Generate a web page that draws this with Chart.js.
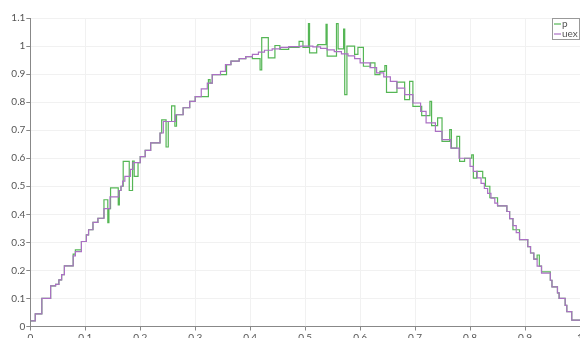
<!DOCTYPE html>
<html>
<head>
<meta charset="utf-8">
<script src="https://cdn.jsdelivr.net/npm/chart.js@4"></script>
<style>
  html, body { margin: 0; padding: 0; background: #fff; }
  #wrap { width: 580px; height: 338px; }
</style>
</head>
<body>
<div id="wrap"><canvas id="plot" width="580" height="338"></canvas></div>
<script>
// exact solution, piecewise constant per cell (x = left edge of cell)
const uexX = [0, 0.009, 0.021, 0.037, 0.046, 0.052, 0.057, 0.062, 0.078, 0.082, 0.093, 0.102, 0.106, 0.114, 0.123, 0.134, 0.145, 0.161, 0.165, 0.168, 0.172, 0.182, 0.187, 0.200, 0.209, 0.219, 0.236, 0.242, 0.264, 0.278, 0.290, 0.300, 0.311, 0.322, 0.331, 0.346, 0.355, 0.365, 0.380, 0.392, 0.404, 0.415, 0.426, 0.440, 0.455, 0.470, 0.492, 0.514, 0.528, 0.540, 0.553, 0.566, 0.578, 0.590, 0.600, 0.618, 0.630, 0.643, 0.655, 0.667, 0.681, 0.696, 0.710, 0.720, 0.737, 0.749, 0.765, 0.780, 0.800, 0.806, 0.813, 0.820, 0.826, 0.832, 0.838, 0.845, 0.850, 0.867, 0.872, 0.878, 0.884, 0.890, 0.905, 0.910, 0.916, 0.922, 0.930, 0.946, 0.949, 0.959, 0.962, 0.973, 0.976, 0.985, 1.000];
const uexY = [0.020, 0.045, 0.100, 0.145, 0.150, 0.166, 0.185, 0.216, 0.252, 0.267, 0.303, 0.327, 0.345, 0.371, 0.386, 0.420, 0.462, 0.485, 0.500, 0.518, 0.535, 0.560, 0.584, 0.606, 0.628, 0.655, 0.690, 0.731, 0.755, 0.780, 0.803, 0.820, 0.847, 0.868, 0.898, 0.910, 0.934, 0.946, 0.955, 0.962, 0.970, 0.978, 0.985, 0.990, 0.995, 0.998, 1.000, 0.997, 0.992, 0.986, 0.980, 0.972, 0.965, 0.955, 0.940, 0.923, 0.904, 0.890, 0.874, 0.850, 0.827, 0.797, 0.767, 0.726, 0.696, 0.666, 0.636, 0.600, 0.571, 0.553, 0.530, 0.510, 0.492, 0.475, 0.458, 0.440, 0.430, 0.410, 0.385, 0.360, 0.335, 0.310, 0.285, 0.262, 0.240, 0.215, 0.190, 0.165, 0.141, 0.120, 0.100, 0.075, 0.053, 0.023, 0.023];

// computed p, same layout
const pX = [0, 0.009, 0.021, 0.037, 0.046, 0.052, 0.057, 0.062, 0.078, 0.082, 0.093, 0.102, 0.106, 0.114, 0.123, 0.134, 0.141, 0.143, 0.146, 0.160, 0.162, 0.165, 0.169, 0.180, 0.186, 0.189, 0.196, 0.200, 0.209, 0.219, 0.236, 0.239, 0.247, 0.251, 0.257, 0.263, 0.266, 0.278, 0.290, 0.300, 0.313, 0.324, 0.327, 0.331, 0.346, 0.357, 0.365, 0.380, 0.392, 0.404, 0.418, 0.421, 0.433, 0.445, 0.454, 0.470, 0.489, 0.496, 0.506, 0.508, 0.521, 0.523, 0.538, 0.540, 0.557, 0.560, 0.570, 0.572, 0.576, 0.590, 0.596, 0.606, 0.619, 0.627, 0.636, 0.645, 0.648, 0.667, 0.681, 0.690, 0.696, 0.712, 0.727, 0.730, 0.741, 0.749, 0.763, 0.766, 0.776, 0.781, 0.790, 0.803, 0.806, 0.812, 0.823, 0.828, 0.836, 0.850, 0.867, 0.872, 0.878, 0.890, 0.905, 0.910, 0.916, 0.922, 0.926, 0.930, 0.946, 0.949, 0.959, 0.962, 0.973, 0.976, 0.985, 1.000];
const pY = [0.020, 0.045, 0.100, 0.145, 0.150, 0.166, 0.185, 0.216, 0.258, 0.273, 0.303, 0.327, 0.345, 0.371, 0.386, 0.452, 0.370, 0.420, 0.494, 0.434, 0.485, 0.500, 0.589, 0.485, 0.590, 0.535, 0.584, 0.606, 0.628, 0.655, 0.690, 0.737, 0.640, 0.731, 0.787, 0.714, 0.755, 0.780, 0.803, 0.820, 0.820, 0.880, 0.868, 0.898, 0.898, 0.934, 0.946, 0.955, 0.962, 0.955, 0.915, 1.030, 0.958, 1.002, 0.988, 0.995, 1.017, 0.995, 1.080, 0.976, 1.000, 1.005, 1.077, 0.964, 1.080, 0.990, 1.060, 0.827, 1.000, 0.970, 0.995, 0.928, 0.940, 0.898, 0.910, 0.930, 0.835, 0.871, 0.809, 0.874, 0.785, 0.752, 0.803, 0.716, 0.744, 0.660, 0.702, 0.636, 0.678, 0.589, 0.600, 0.612, 0.529, 0.553, 0.530, 0.500, 0.459, 0.430, 0.410, 0.385, 0.345, 0.310, 0.285, 0.262, 0.240, 0.255, 0.215, 0.195, 0.165, 0.141, 0.120, 0.100, 0.075, 0.053, 0.023, 0.023];

const xTicks = [0, 0.1, 0.2, 0.3, 0.4, 0.5, 0.6, 0.7, 0.8, 0.9, 1];
const yTicks = [0, 0.1, 0.2, 0.3, 0.4, 0.5, 0.6, 0.7, 0.8, 0.9, 1, 1.1];

const seriesNames = ['p', 'uex'];
const seriesColors = ['#55b655', '#ab70c4'];

const toPoints = (xs, ys) => xs.map((x, i) => ({ x: x, y: ys[i] }));

Chart.defaults.font.family = 'Lato, "Open Sans", sans-serif';
Chart.defaults.font.size = 10;
Chart.defaults.color = '#555';

// legend box in the top right corner of the plot
const boxLegend = {
  id: 'boxLegend',
  afterDraw(chart) {
    const ctx = chart.ctx;
    const right = chart.chartArea.right;
    const top = chart.chartArea.top;
    const w = 28, h = 22;
    const left = right - w;
    ctx.save();
    ctx.fillStyle = '#fff';
    ctx.fillRect(left, top, w, h);
    ctx.strokeStyle = '#999';
    ctx.lineWidth = 1;
    ctx.strokeRect(left + 0.5, top + 0.5, w - 1, h - 1);
    ctx.font = '10px Lato, "Open Sans", sans-serif';
    ctx.textBaseline = 'middle';
    seriesNames.forEach((name, i) => {
      const y = top + 6 + i * 10;
      ctx.strokeStyle = seriesColors[i];
      ctx.lineWidth = 1.2;
      ctx.beginPath();
      ctx.moveTo(left + 2, y);
      ctx.lineTo(left + 9, y);
      ctx.stroke();
      ctx.fillStyle = '#555';
      ctx.fillText(name, left + 10, y);
    });
    ctx.restore();
  }
};

// each value holds from its x up to the next x: horizontal first, then vertical
new Chart(document.getElementById('plot'), {
  type: 'line',
  data: {
    datasets: [
      {
        label: seriesNames[0],
        data: toPoints(pX, pY),
        borderColor: seriesColors[0],
        borderWidth: 1.2,
        stepped: 'before',
        pointRadius: 0,
        order: 2
      },
      {
        label: seriesNames[1],
        data: toPoints(uexX, uexY),
        borderColor: seriesColors[1],
        borderWidth: 1.2,
        stepped: 'before',
        pointRadius: 0,
        order: 1
      }
    ]
  },
  options: {
    responsive: false,
    animation: false,
    layout: { padding: { top: 18, right: 0, left: 0, bottom: 0 } },
    plugins: { legend: { display: false }, tooltip: { enabled: false } },
    scales: {
      x: {
        type: 'linear',
        min: 0,
        max: 1,
        afterBuildTicks: s => { s.ticks = xTicks.map(v => ({ value: v })); },
        afterFit: s => { s.height = 11.5; s.paddingLeft = 0; s.paddingRight = 0; },
        ticks: { padding: 1, maxRotation: 0, autoSkip: false, callback: v => String(v) },
        grid: { color: '#f1f1f1', tickColor: '#888', tickLength: 4 },
        border: { color: '#888', width: 1 }
      },
      y: {
        min: 0,
        max: 1.1,
        afterBuildTicks: s => { s.ticks = yTicks.map(v => ({ value: v })); },
        afterFit: s => { s.width = 30.3; s.paddingTop = 0; s.paddingBottom = 0; },
        ticks: { padding: 1, autoSkip: false, callback: v => String(v) },
        grid: { color: '#f1f1f1', tickColor: '#888', tickLength: 4 },
        border: { color: '#888', width: 1 }
      }
    }
  },
  plugins: [boxLegend]
});
</script>
</body>
</html>
